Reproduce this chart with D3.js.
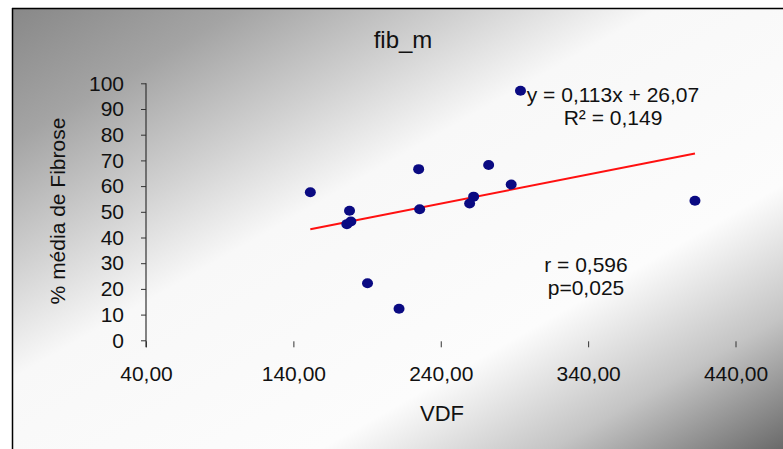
<!DOCTYPE html>
<html>
<head>
<meta charset="utf-8">
<script src="https://cdn.jsdelivr.net/npm/d3@7"></script>
<style>
  body { margin: 0; background: #fff; }
  svg { display: block; font-family: "Liberation Sans", Arial, sans-serif; }
</style>
</head>
<body>
<div id="plot"></div>
<script>
const w = 783;
const h = 449;

// values
const vdf = [294.1, 151.5, 178.1, 176.3, 179.0, 225.0, 225.7, 190.3, 211.7, 262.3, 259.6, 272.5, 287.8, 412.5];
const fib = [97.1, 57.6, 50.4, 45.2, 46.2, 66.6, 51.0, 22.2, 12.3, 55.9, 53.2, 68.2, 60.6, 54.3];
const xTicks = [40, 140, 240, 340, 440];
const yTicks = [0, 10, 20, 30, 40, 50, 60, 70, 80, 90, 100];
const slope = 0.113;
const intercept = 26.07;
const eqLines = ["y = 0,113x + 26,07", "R\u00b2 = 0,149"];
const statLines = ["r = 0,596", "p=0,025"];

const xScale = d3.scaleLinear().domain([40, 440]).range([146, 735.5]);
const yScale = d3.scaleLinear().domain([0, 100]).range([340.3, 83.3]);

const svg = d3.select("#plot").append("svg")
  .attr("width", w)
  .attr("height", h);

const defs = svg.append("defs");
const grad = defs.append("linearGradient")
  .attr("id", "bg")
  .attr("x1", 0).attr("y1", 0)
  .attr("x2", 1).attr("y2", 1);
[[0, "#888888"], [0.15, "#a4a4a4"], [0.3, "#d2d2d2"], [0.42, "#f8f8f8"],
 [0.7, "#fcfcfc"], [0.85, "#c4c4c4"], [1, "#6a6a6a"]].forEach(s => {
  grad.append("stop").attr("offset", s[0]).attr("stop-color", s[1]);
});

svg.append("rect")
  .attr("x", 12).attr("y", 8)
  .attr("width", w - 12).attr("height", h - 8)
  .attr("fill", "url(#bg)");

svg.append("line").attr("x1", 12).attr("x2", w).attr("y1", 8.5).attr("y2", 8.5)
  .attr("stroke", "#000").attr("stroke-width", 1.5);
svg.append("line").attr("x1", 12.5).attr("x2", 12.5).attr("y1", 8).attr("y2", h)
  .attr("stroke", "#000").attr("stroke-width", 1.5);

// title
svg.append("text")
  .attr("x", 403).attr("y", 48)
  .attr("text-anchor", "middle")
  .attr("font-size", 24)
  .attr("fill", "#111")
  .text("fib_m");

// y axis
const yAxis = d3.axisLeft(yScale).tickValues(yTicks).tickSize(5).tickPadding(17);
const gy = svg.append("g")
  .attr("transform", "translate(" + xScale(40) + ",0)")
  .call(yAxis);
gy.select(".domain").remove();
gy.selectAll("line").attr("stroke", "#333");
gy.selectAll("text").attr("font-size", 21).attr("fill", "#111")
  .attr("font-family", "Liberation Sans, Arial, sans-serif");
svg.append("line")
  .attr("x1", xScale(40)).attr("x2", xScale(40))
  .attr("y1", yScale(100)).attr("y2", yScale(0) + 7)
  .attr("stroke", "#333").attr("stroke-width", 1.2);

// x axis
const fmt = d3.format(".2f");
const xAxis = d3.axisBottom(xScale).tickValues(xTicks).tickSize(6)
  .tickFormat(d => fmt(d).replace(".", ","));
const gx = svg.append("g")
  .attr("transform", "translate(0," + (yScale(0) + 1) + ")")
  .call(xAxis);
gx.select(".domain").remove();
gx.selectAll("line").attr("stroke", "#333");
gx.selectAll("text").attr("font-size", 21).attr("fill", "#111")
  .attr("font-family", "Liberation Sans, Arial, sans-serif")
  .attr("y", 40).attr("dy", 0);

// axis titles
svg.append("text")
  .attr("x", 442).attr("y", 421)
  .attr("text-anchor", "middle")
  .attr("font-size", 22)
  .attr("fill", "#111")
  .text("VDF");

svg.append("text")
  .attr("transform", "translate(65,211) rotate(-90)")
  .attr("text-anchor", "middle")
  .attr("font-size", 21)
  .attr("fill", "#111")
  .text("% média de Fibrose");

// trend line
const xr = d3.extent(vdf);
svg.append("line")
  .attr("x1", xScale(xr[0])).attr("y1", yScale(slope * xr[0] + intercept))
  .attr("x2", xScale(xr[1])).attr("y2", yScale(slope * xr[1] + intercept))
  .attr("stroke", "#ff1010")
  .attr("stroke-width", 2);

// points
svg.selectAll("ellipse.dot")
  .data(vdf)
  .enter()
  .append("ellipse")
  .attr("class", "dot")
  .attr("cx", d => xScale(d))
  .attr("cy", (d, i) => yScale(fib[i]))
  .attr("rx", 5.5)
  .attr("ry", 5)
  .attr("fill", "#0a0a82");

// annotations
svg.selectAll("text.eq")
  .data(eqLines)
  .enter()
  .append("text")
  .attr("class", "eq")
  .attr("x", 613)
  .attr("y", (d, i) => 102 + i * 23)
  .attr("text-anchor", "middle")
  .attr("font-size", 21)
  .attr("fill", "#111")
  .text(d => d);

svg.selectAll("text.stat")
  .data(statLines)
  .enter()
  .append("text")
  .attr("class", "stat")
  .attr("x", 586)
  .attr("y", (d, i) => 272 + i * 23)
  .attr("text-anchor", "middle")
  .attr("font-size", 21)
  .attr("fill", "#111")
  .text(d => d);
</script>
</body>
</html>
